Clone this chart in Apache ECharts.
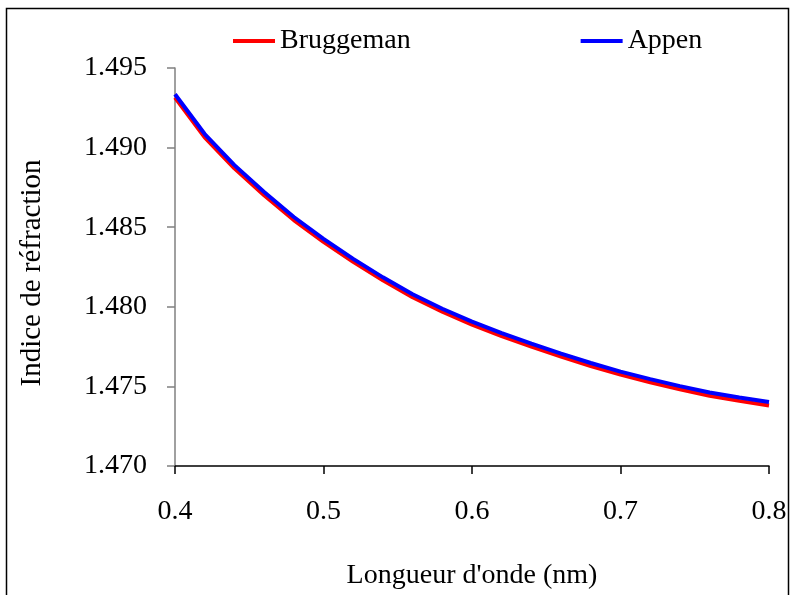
<!DOCTYPE html>
<html>
<head>
<meta charset="utf-8">
<script src="https://cdn.jsdelivr.net/npm/echarts@6/dist/echarts.min.js"></script>
<style>html,body{margin:0;padding:0;background:#fff;}#chart{width:791px;height:595px;}</style>
</head>
<body>
<div id="chart"></div>
<script>
var wavelengths = [0.40,0.42,0.44,0.46,0.48,0.50,0.52,0.54,0.56,0.58,0.60,0.62,0.64,0.66,0.68,0.70,0.72,0.74,0.76,0.78,0.80];
var bruggeman = [1.49315,1.49065,1.48870,1.48701,1.48545,1.48408,1.48282,1.48166,1.48060,1.47969,1.47888,1.47816,1.47750,1.47687,1.47628,1.47574,1.47526,1.47482,1.47441,1.47409,1.47380];
var appen = [1.49335,1.49085,1.48890,1.48721,1.48564,1.48427,1.48301,1.48185,1.48079,1.47988,1.47907,1.47835,1.47769,1.47706,1.47647,1.47593,1.47546,1.47502,1.47462,1.47430,1.47402];
var seriesNames = ['Bruggeman','Appen'];
var xTitle = "Longueur d'onde (nm)";
var yTitle = 'Indice de réfraction';

function pairs(xs, ys){ return xs.map(function(x,i){ return [x, ys[i]]; }); }

var font = 'Liberation Serif, Times New Roman, serif';
var chart = echarts.init(document.getElementById('chart'), null, {renderer:'canvas'});
chart.setOption({
  animation:false,
  backgroundColor:'#fff',
  textStyle:{fontFamily:font},
  graphic:[{type:'rect', silent:true, z:-1, shape:{x:6.5,y:8.5,width:782,height:620}, style:{fill:'none', stroke:'#000', lineWidth:1.5}}],
  legend:{
    data:seriesNames, left:233, top:27, padding:0, itemWidth:42, itemHeight:4, itemGap:170, icon:'rect',
    textStyle:{fontFamily:font, fontSize:28, color:'#000'}
  },
  grid:{left:175, right:22, top:68, bottom:128, containLabel:false},
  xAxis:{
    type:'value', min:0.4, max:0.8, interval:0.1,
    name:xTitle, nameLocation:'middle', nameGap:96,
    nameTextStyle:{fontFamily:font, fontSize:28, color:'#000'},
    axisLine:{lineStyle:{color:'#000', width:1.5}},
    axisTick:{show:true, inside:false, length:8, lineStyle:{color:'#000', width:1.5}},
    axisLabel:{margin:32, fontFamily:font, fontSize:28, color:'#000', formatter:function(v){return v.toFixed(1);}},
    splitLine:{show:false}
  },
  yAxis:{
    type:'value', min:1.470, max:1.495, interval:0.005,
    name:yTitle, nameLocation:'middle', nameGap:128, nameRotate:90,
    nameTextStyle:{fontFamily:font, fontSize:29, color:'#000', padding:[0,12,0,0]},
    axisLine:{show:true, lineStyle:{color:'#808080', width:1.5}},
    axisTick:{show:true, inside:false, length:8, lineStyle:{color:'#808080', width:1.5}},
    axisLabel:{margin:28, fontFamily:font, fontSize:28, color:'#000', formatter:function(v){return v.toFixed(3);}},
    splitLine:{show:false}
  },
  series:[
    {name:seriesNames[0], type:'line', data:pairs(wavelengths, bruggeman), showSymbol:false, symbol:'none',
     lineStyle:{color:'#FF0000', width:4}, itemStyle:{color:'#FF0000'}},
    {name:seriesNames[1], type:'line', data:pairs(wavelengths, appen), showSymbol:false, symbol:'none',
     lineStyle:{color:'#0000FF', width:4}, itemStyle:{color:'#0000FF'}}
  ]
});
</script>
</body>
</html>
